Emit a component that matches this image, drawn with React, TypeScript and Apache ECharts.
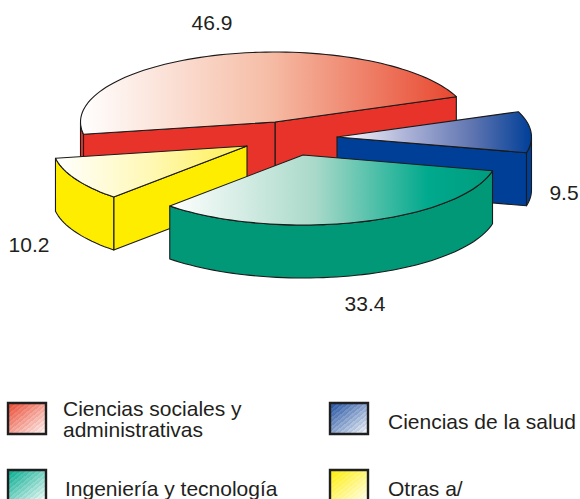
import React, { useEffect, useRef } from "react";
import * as echarts from "echarts";

const categories = ["Ciencias sociales y\nadministrativas", "Otras a/", "Ingeniería y tecnología", "Ciencias de la salud"];
const shares = [46.9, 10.2, 33.4, 9.5];
const tickLabels = ["46.9", "10.2", "33.4", "9.5"];

const CX = 275, CY = 122, RX = 194.5, RY = 70, DEPTH = 53, START = 21.2;
const offsets = [[0, 0], [-28, 24], [28, 33], [62, 15]];
const wallColors = ["#E7332A", "#FFED00", "#009877", "#003F98"];
const topStops = [
  [[0, "#ffffff"], [0.5, "#F6BDA6"], [1, "#E8472F"]],
  [[0, "#ffffff"], [0.5, "#FFF8B4"], [1, "#FFEF50"]],
  [[0, "#ffffff"], [0.45, "#A9D9C9"], [0.8, "#00A98D"], [1, "#009C7E"]],
  [[0, "#ffffff"], [0.35, "#AEB4D8"], [0.7, "#5E74B0"], [1, "#003F98"]],
];
const labelPos = [[212, 22], [29, 244], [365, 303], [564, 192]];
const drawOrder = [0, 3, 1, 2];
const legendPos = [[7, 402, 63, 419], [7, 469, 65, 488], [329, 402, 388, 421], [329, 469, 388, 488]];
const legendOrder = [0, 2, 3, 1];
const legendColors = ["#E8472F", "#00A98D", "#1F4F9F", "#FFED00"];

const rad = (d: number) => (d * Math.PI) / 180;

function arcPts(cx: number, cy: number, a0: number, a1: number) {
  const pts: number[][] = [];
  const n = Math.max(2, Math.ceil(Math.abs(a1 - a0) / 2));
  for (let i = 0; i <= n; i++) {
    const a = rad(a0 + ((a1 - a0) * i) / n);
    pts.push([cx + RX * Math.cos(a), cy - RY * Math.sin(a)]);
  }
  return pts;
}

const grad = (stops: any[]) =>
  new echarts.graphic.LinearGradient(0, 0, 1, 0, stops.map((s) => ({ offset: s[0], color: s[1] })));

function stripedGradient(color: string) {
  const bands = 14;
  const stops: any[] = [];
  for (let i = 0; i < bands; i++) {
    const t0 = i / bands;
    const t1 = (i + 1) / bands;
    const fade = (t: number, extra: number) =>
      echarts.color.lerp(Math.min(1, t * 0.92 + extra), [color, "#ffffff"]);
    stops.push({ offset: t0, color: fade(t0, 0) });
    stops.push({ offset: (t0 + t1) / 2, color: fade(t0, 0) });
    stops.push({ offset: (t0 + t1) / 2, color: fade(t0, 0.12) });
    stops.push({ offset: t1, color: fade(t0, 0.12) });
  }
  return new echarts.graphic.LinearGradient(0, 0, 1, 1, stops);
}

const edge = { stroke: "#1a1a1a", lineWidth: 1.1, lineJoin: "round" };

function renderItem(params: any, api: any) {
  const idx = params.dataIndex;
  const slice = drawOrder[idx];
  let a0 = START;
  for (let i = 0; i < slice; i++) a0 += (shares[i] / 100) * 360;
  const a1 = a0 + (api.value(0) / 100) * 360;
  const cx = CX + offsets[slice][0];
  const cy = CY + offsets[slice][1];
  const fill = wallColors[slice];
  const children: any[] = [];
  const poly = (points: number[][], f: any) =>
    children.push({ type: "polygon", shape: { points }, style: { fill: f, ...edge } });

  const p0 = [cx + RX * Math.cos(rad(a0)), cy - RY * Math.sin(rad(a0))];
  const p1 = [cx + RX * Math.cos(rad(a1)), cy - RY * Math.sin(rad(a1))];
  const down = (p: number[]) => [p[0], p[1] + DEPTH];

  // cut faces that look toward the viewer
  if (Math.sin(rad(a0)) > 0 && a1 - a0 < 360) {
    poly([[cx, cy], p0, down(p0), [cx, cy + DEPTH]], fill);
  }
  if (slice === 3) {
    poly([[cx, cy], p0, down(p0), [cx, cy + DEPTH]], fill);
  }
  if (Math.sin(rad(a1)) < 0 && slice !== 2 && slice !== 3) {
    poly([[cx, cy], p1, down(p1), [cx, cy + DEPTH]], fill);
  }
  // outer wall: the part of the rim on the near half of the ellipse
  const segs: number[][] = [];
  for (const [lo, hi] of [[180, 360], [540, 720]]) {
    const s = Math.max(a0, lo), e = Math.min(a1, hi);
    if (e > s) segs.push([s, e]);
  }
  for (const [s, e] of segs) {
    const top = arcPts(cx, cy, s, e);
    poly([...top, ...top.slice().reverse().map(down)], fill);
  }
  // top face
  poly([[cx, cy], ...arcPts(cx, cy, a0, a1)], grad(topStops[slice]));

  // value label
  children.push({
    type: "text",
    style: {
      text: tickLabels[slice],
      x: labelPos[slice][0],
      y: labelPos[slice][1],
      fill: "#231F20",
      font: "21px 'Liberation Sans'",
      align: "center",
      verticalAlign: "middle",
    },
  });
  return { type: "group", children };
}

function legendGraphics() {
  const out: any[] = [];
  legendOrder.forEach((cat, i) => {
    const [sx, sy, tx, ty] = legendPos[i];
    out.push({
      type: "rect",
      shape: { x: sx + 1, y: sy + 1, width: 38, height: 31 },
      style: {
        fill: stripedGradient(legendColors[i]),
        stroke: "#1f1f1f",
        lineWidth: 2.4,
      },
    });
    out.push({
      type: "text",
      style: {
        text: categories[cat],
        x: tx,
        y: ty,
        fill: "#231F20",
        font: "21px 'Liberation Sans'",
        lineHeight: 21,
        verticalAlign: "middle",
      },
    });
  });
  return out;
}

export default function App() {
  const ref = useRef<HTMLDivElement>(null);
  useEffect(() => {
    const chart = echarts.init(ref.current!, null, { renderer: "svg" });
    chart.setOption({
      animation: false,
      backgroundColor: "#ffffff",
      graphic: legendGraphics(),
      series: [
        {
          type: "custom",
          coordinateSystem: "none",
          silent: true,
          clip: false,
          data: drawOrder.map((i) => [shares[i]]),
          renderItem,
        },
      ],
    });
    return () => chart.dispose();
  }, []);
  return <div ref={ref} style={{ width: 580, height: 499, position: "absolute", left: 0, top: 0 }} />;
}
